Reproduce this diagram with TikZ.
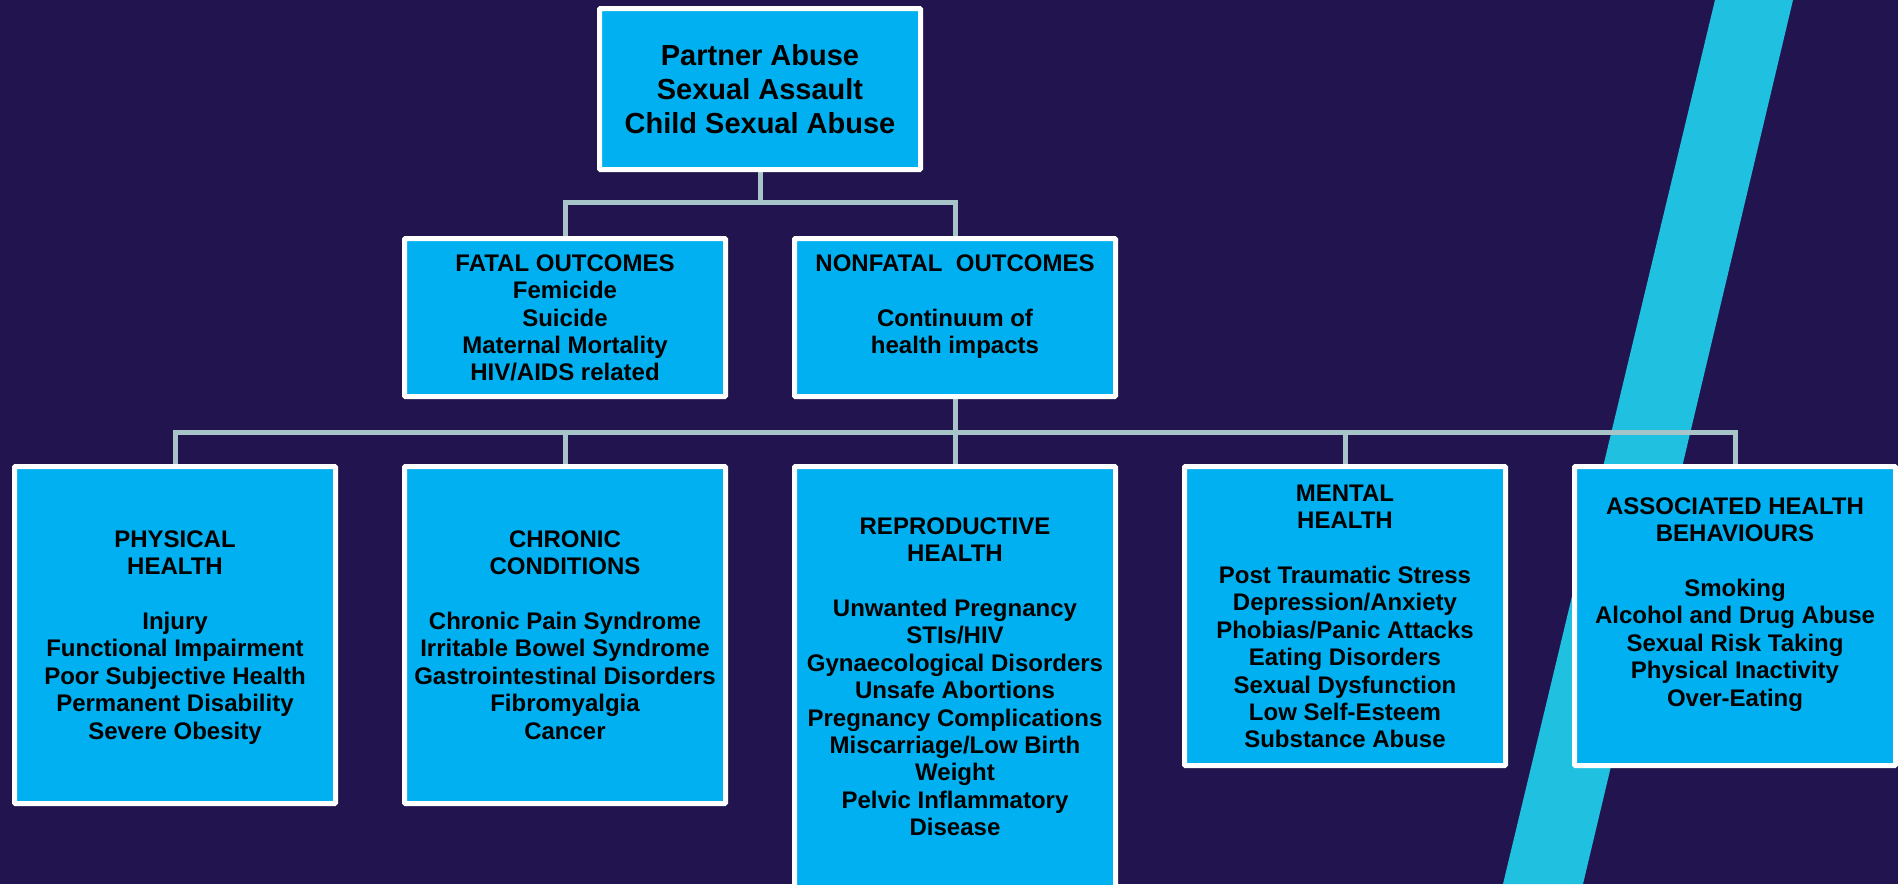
\documentclass[tikz,border=0pt]{standalone}
\usepackage{fontspec}
\setmainfont{Liberation Sans}
\usetikzlibrary{calc}
\definecolor{bgnavy}{HTML}{22154F}
\definecolor{boxblue}{HTML}{00B0F0}
\definecolor{stripecyan}{HTML}{20C0E0}
\definecolor{connector}{HTML}{A7C4C8}
\pgfdeclarelayer{bglayer}
\pgfdeclarelayer{connlayer}
\pgfsetlayers{bglayer,connlayer,main}
\newcommand{\firstln}{\rule{0pt}{20pt}}
\begin{document}
\begin{tikzpicture}[x=1pt,y=-1pt,
  boxnode/.style={draw=white, line width=5pt, fill=boxblue, inner sep=0pt, minimum width=321pt, rounded corners=1pt},
  txt/.style={font=\bfseries\fontsize{24}{27.4}\selectfont, align=center, inner sep=0pt, anchor=north, text=black},
  toptxt/.style={txt, font=\bfseries\fontsize{29}{34}\selectfont},
  link/.style={draw=connector, line width=5pt}]
\useasboundingbox (0,0) rectangle (1898,884);
\begin{pgfonlayer}{bglayer}
  \fill[bgnavy] (0,0) rectangle (1898,884);
  \fill[stripecyan] (1715,0) -- (1793,0) -- (1583,884) -- (1503,884) -- cycle;
\end{pgfonlayer}
% boxes
\node[boxnode, minimum height=161pt] (top) at (760,89) {};
\node[boxnode, minimum height=158pt] (fatal) at (565,317.5) {};
\node[boxnode, minimum height=158pt] (nonfatal) at (955,317.5) {};
\node[boxnode, minimum height=337pt] (phys) at (175,635) {};
\node[boxnode, minimum height=337pt] (chron) at (565,635) {};
\node[boxnode, minimum height=431pt] (repro) at (955,682) {};
\node[boxnode, minimum height=299pt] (mental) at (1345,616) {};
\node[boxnode, minimum height=299pt] (assoc) at (1735,616) {};
% connectors
\begin{pgfonlayer}{connlayer}
  \coordinate (j1) at (760,202.5);
  \coordinate (j2) at (955,432);
  \draw[link] (top.south) -- (j1);
  \draw[link] (fatal.north) |- (j1) -| (nonfatal.north);
  \draw[link] (nonfatal.south) -- (j2);
  \draw[link] (phys.north) |- (j2) -| (assoc.north);
  \draw[link] (chron.north) -- (chron.north |- j2);
  \draw[link] (repro.north) -- (j2);
  \draw[link] (mental.north) -- (mental.north |- j2);
\end{pgfonlayer}
% texts
\node[toptxt] (ttop) at (760,41) {\rule{0pt}{24pt}Partner Abuse\\Sexual Assault\\Child Sexual Abuse};
\node[txt] (tfatal) at (565,251) {\firstln FATAL OUTCOMES\\Femicide\\Suicide\\Maternal Mortality\\HIV/AIDS related};
\node[txt] (tnonfatal) at (955,251) {\firstln NONFATAL\ \ OUTCOMES\\[27.4pt]Continuum of\\health impacts};
\node[txt] (tphys) at (175,527) {\firstln PHYSICAL\\HEALTH\\[27.4pt]Injury\\Functional Impairment\\Poor Subjective Health\\Permanent Disability\\Severe Obesity};
\node[txt] (tchron) at (565,527) {\firstln CHRONIC\\CONDITIONS\\[27.4pt]Chronic Pain Syndrome\\Irritable Bowel Syndrome\\Gastrointestinal Disorders\\Fibromyalgia\\Cancer};
\node[txt] (trepro) at (955,514) {\firstln REPRODUCTIVE\\HEALTH\\[27.4pt]Unwanted Pregnancy\\STIs/HIV\\Gynaecological Disorders\\Unsafe Abortions\\Pregnancy Complications\\Miscarriage/Low Birth\\Weight\\Pelvic Inflammatory\\Disease};
\node[txt] (tmental) at (1345,481) {\firstln MENTAL\\HEALTH\\[27.4pt]Post Traumatic Stress\\Depression/Anxiety\\Phobias/Panic Attacks\\Eating Disorders\\Sexual Dysfunction\\Low Self-Esteem\\Substance Abuse};
\node[txt] (tassoc) at (1735,494) {\firstln ASSOCIATED HEALTH\\BEHAVIOURS\\[27.4pt]Smoking\\Alcohol and Drug Abuse\\Sexual Risk Taking\\Physical Inactivity\\Over-Eating};
\end{tikzpicture}
\end{document}
